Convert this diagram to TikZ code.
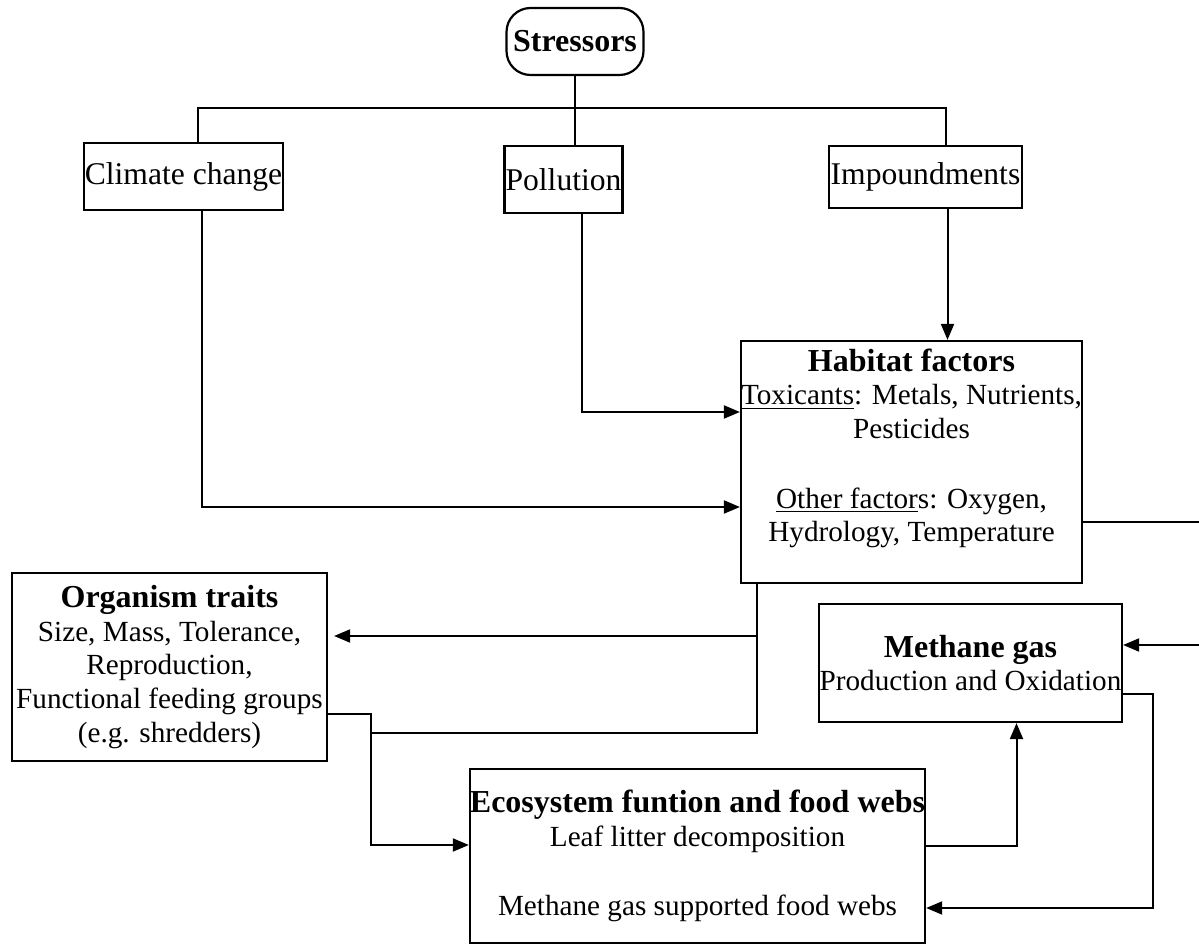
\documentclass[tikz,border=0pt]{standalone}
\usepackage{fontspec}
\setmainfont{Liberation Serif}
\usepackage{tikz}
\usetikzlibrary{arrows.meta}

\newcommand{\hd}[1]{{\fontsize{16}{16.8}\selectfont\bfseries #1}}

\begin{document}
\begin{tikzpicture}[x=0.5pt,y=-0.5pt]
      \tikzset { box/.style = { draw,line width=1.1pt,inner sep=0pt,align=center,
                                font=\fontsize{14.6}{16.8}\selectfont } }
      \tikzset { cause/.style = { box,font=\fontsize{15.8}{16.8}\selectfont } }
      \tikzset { edge/.style = { ->,> = {Triangle[length=8pt,width=6.5pt]},line width=1pt } }
      \useasboundingbox (0,0) rectangle (1199,945);

      \node[box,rounded corners=12pt,minimum width=68.5pt,minimum height=33.5pt] (stress) at (575,41.5) {\hd{Stressors}};
      \node[cause,minimum width=99.5pt,minimum height=33.5pt] (climate) at (183.5,176.5) {Climate change};
      \node[cause,minimum width=59pt,minimum height=33.5pt] (pollut) at (563.5,179.5) {Pollution};
      \node[cause,minimum width=96.5pt,minimum height=31pt] (impound) at (925.5,177) {Impoundments};
      \node[box,minimum width=170.5pt,minimum height=121pt] (habitat) at (911.5,462)
            {\hd{Habitat factors}\\ \underline{Toxicants}: Metals, Nutrients,\\ Pesticides\\[18pt]
             \underline{Other factor}s: Oxygen,\\ Hydrology, Temperature\\ \mbox{}};
      \node[box,minimum width=151.5pt,minimum height=59pt] (methane) at (970.5,663)
            {\hd{Methane gas}\\ Production and Oxidation};
      \node[box,minimum width=157.5pt,minimum height=94pt] (organism) at (169.5,667)
            {\hd{Organism traits}\\ Size, Mass, Tolerance,\\ Reproduction,\\ Functional feeding groups\\ (e.g. shredders)};
      \node[box,minimum width=227.5pt,minimum height=87pt] (eco) at (697.5,856)
            {\hd{Ecosystem funtion and food webs}\\ Leaf litter decomposition\\[18pt] Methane gas supported food webs};

      \coordinate (bus) at (575,108);
      \coordinate (junc) at (371,733);
      \coordinate (rim) at (1215,600);
      \coordinate (loop) at (1153,800);

      \draw[line width=1pt] (stress) -- (bus);
      \draw[line width=1pt] ([xshift=7pt]climate.north) |- (bus) -| ([xshift=10pt]impound.north);
      \draw[line width=1pt] (bus) -- (bus |- pollut.north);

      \draw[edge] ([xshift=9pt]climate.south) |- ([yshift=-22.5pt]habitat.west);
      \draw[edge] ([xshift=9pt]pollut.south) |- ([yshift=25pt]habitat.west);
      \draw[edge] ([xshift=11pt]impound.south) -- ([xshift=11pt]impound.south |- habitat.north);
      \draw[edge] ([yshift=-30pt]habitat.east) -- ([yshift=-30pt]habitat.east -| rim) |- ([yshift=9pt]methane.east);

      \draw[edge,shorten >=3pt] ([xshift=8.5pt]habitat.south west) |- ([yshift=15.5pt]organism.east);
      \draw[line width=1pt] ([xshift=8.5pt]habitat.south west) |- (junc);
      \draw[edge] ([yshift=-23.5pt]organism.east) -| (junc) |- ([yshift=5.5pt]eco.west);

      \draw[edge] ([yshift=5pt]eco.east) -| ([xshift=23pt]methane.south);
      \draw[edge] ([yshift=-15.5pt]methane.east) -- ([yshift=-15.5pt]methane.east -| loop) |- ([yshift=-26pt]eco.east);

    \end{tikzpicture}
\end{document}
